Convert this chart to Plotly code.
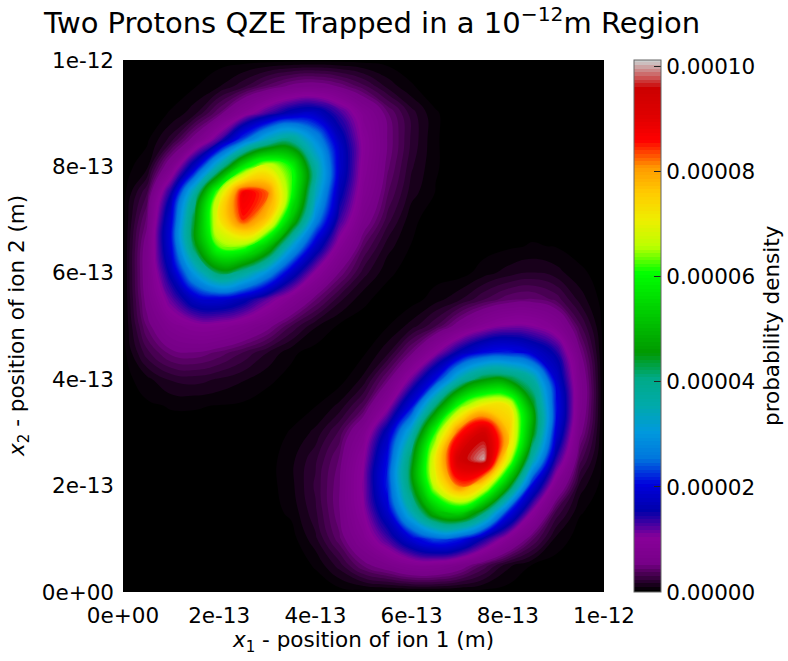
import numpy as np
import plotly.graph_objects as go

# grid positions along each ion coordinate, in units of 1e-12 m
X1_POS = [0.00, 0.05, 0.10, 0.15, 0.20, 0.25, 0.30, 0.35, 0.40, 0.45, 0.50,
          0.55, 0.60, 0.65, 0.70, 0.75, 0.80, 0.85, 0.90, 0.95, 1.00]
X2_POS = [0.00, 0.05, 0.10, 0.15, 0.20, 0.25, 0.30, 0.35, 0.40, 0.45, 0.50,
          0.55, 0.60, 0.65, 0.70, 0.75, 0.80, 0.85, 0.90, 0.95, 1.00]

# probability density, units of 1e-5; one row per x2 value (bottom -> top)
DENSITY_E5 = [
    [0, 0, 0, 0, 0, 0, 0, 0, 0, 0, 0, 0, 0, 0, 0, 0, 0, 0, 0, 0, 0],
    [0, 0, 0, 0, 0, 0, 0, 0, 0.04, 0.2, 0.45, 0.62, 0.8, 0.8, 0.62, 0.35, 0.12, 0.03, 0, 0, 0],
    [0, 0, 0, 0, 0, 0, 0, 0, 0.15, 0.42, 0.8, 1.3, 1.95, 2.4, 2.2, 1.5, 0.88, 0.4, 0.08, 0, 0],
    [0, 0, 0, 0, 0, 0, 0, 0.05, 0.22, 0.5, 1.0, 1.84, 3.5, 5.07, 5.51, 4.22, 2.19, 1.03, 0.29, 0.04, 0],
    [0, 0, 0, 0, 0, 0, 0, 0.08, 0.25, 0.5, 1.08, 2.2, 4.36, 6.82, 8.3, 7.24, 4.8, 2.02, 0.78, 0.14, 0],
    [0, 0, 0, 0, 0, 0, 0, 0.08, 0.22, 0.45, 1.0, 2.1, 4.33, 7.19, 9.44, 10.0, 6.97, 3.66, 1.43, 0.34, 0],
    [0, 0, 0, 0, 0, 0, 0, 0.04, 0.12, 0.32, 0.75, 1.7, 3.43, 6.18, 8.48, 9.43, 7.73, 4.74, 1.95, 0.56, 0],
    [0, 0.02, 0.04, 0.04, 0.03, 0.02, 0, 0, 0.03, 0.12, 0.35, 0.95, 2.03, 4.12, 6.25, 7.25, 7.2, 4.66, 2.14, 0.7, 0],
    [0, 0.08, 0.18, 0.2, 0.16, 0.11, 0.05, 0.01, 0, 0, 0.12, 0.46, 1.15, 2.07, 3.57, 4.49, 4.46, 3.75, 1.88, 0.69, 0],
    [0, 0.28, 0.47, 0.5, 0.42, 0.3, 0.17, 0.05, 0, 0, 0.02, 0.15, 0.48, 1.01, 1.62, 2.08, 2.18, 1.89, 1.48, 0.53, 0],
    [0, 0.45, 0.78, 0.93, 0.92, 0.78, 0.57, 0.3, 0.11, 0.02, 0, 0.03, 0.13, 0.3, 0.6, 0.9, 1.08, 1.05, 0.8, 0.32, 0],
    [0, 0.57, 1.2, 1.8, 1.9, 1.65, 1.2, 0.8, 0.45, 0.19, 0.05, 0, 0, 0.07, 0.16, 0.3, 0.42, 0.45, 0.35, 0.14, 0],
    [0, 0.62, 1.65, 3.1, 4.3, 3.8, 2.9, 1.78, 1.0, 0.5, 0.2, 0.05, 0, 0, 0, 0.07, 0.13, 0.17, 0.13, 0.05, 0],
    [0, 0.6, 2.0, 4.4, 6.35, 6.4, 5.2, 3.2, 1.8, 0.9, 0.38, 0.13, 0.03, 0, 0, 0, 0.02, 0.04, 0.03, 0, 0],
    [0, 0.47, 1.95, 4.5, 7.2, 8.5, 7.6, 5.2, 2.8, 1.35, 0.63, 0.27, 0.05, 0, 0, 0, 0, 0, 0, 0, 0],
    [0, 0.3, 1.5, 3.73, 6.65, 8.8, 8.3, 6.15, 3.45, 1.65, 0.82, 0.38, 0.13, 0.03, 0, 0, 0, 0, 0, 0, 0],
    [0, 0.08, 0.68, 1.8, 3.63, 5.78, 6.87, 6.06, 3.69, 1.85, 0.92, 0.46, 0.18, 0.04, 0, 0, 0, 0, 0, 0, 0],
    [0, 0.02, 0.2, 0.6, 1.28, 2.4, 3.46, 3.93, 2.9, 1.72, 0.95, 0.5, 0.22, 0.04, 0, 0, 0, 0, 0, 0, 0],
    [0, 0, 0.04, 0.15, 0.44, 0.87, 1.3, 1.68, 1.77, 1.33, 0.8, 0.45, 0.2, 0.04, 0, 0, 0, 0, 0, 0, 0],
    [0, 0, 0, 0.03, 0.1, 0.22, 0.4, 0.55, 0.6, 0.5, 0.33, 0.15, 0.04, 0, 0, 0, 0, 0, 0, 0, 0],
    [0, 0, 0, 0, 0, 0, 0, 0, 0, 0, 0, 0, 0, 0, 0, 0, 0, 0, 0, 0, 0],
]
CBAR_MAX = 1.013e-4          # top of the colour bar

AXIS_TICKS = [0, 2e-13, 4e-13, 6e-13, 8e-13, 1e-12]
AXIS_TICK_TEXT = ["0e+00", "2e-13", "4e-13", "6e-13", "8e-13", "1e-12"]
CBAR_TICKS = [0, 2e-5, 4e-5, 6e-5, 8e-5, 1e-4]
CBAR_TICK_TEXT = ["0.00000", "0.00002", "0.00004", "0.00006", "0.00008", "0.00010"]

# matplotlib nipy_spectral, sampled at its 21 anchor points
_R = [0, .4667, .5333, 0, 0, 0, 0, 0, 0, 0, 0, 0, 0, .7333, .9333, 1, 1, 1, .8667, .8, .8]
_G = [0, 0, 0, 0, 0, .4667, .6, .6667, .6667, .6, .7333, .8667, 1, 1, .9333, .8, .6, 0, 0, 0, .8]
_B = [0, .5333, .6, .6667, .8667, .8667, .8667, .6667, .5333, 0, 0, 0, 0, 0, 0, 0, 0, 0, 0, 0, .8]
NIPY = [[k / 20, "rgb(%d,%d,%d)" % (round(r * 255), round(g * 255), round(b * 255))]
        for k, (r, g, b) in enumerate(zip(_R, _G, _B))]

FONT = "DejaVu Sans"
FS = 21.5
W, H = 788, 661
L, R, T, B = 123, 184, 60, 69          # plot area 123..604 x 60..592
PW = W - L - R

x = np.array(X1_POS) * 1e-12
y = np.array(X2_POS) * 1e-12
z = np.array(DENSITY_E5) * 1e-5

fig = go.Figure()
fig.add_trace(go.Contour(
    x=x, y=y, z=z, colorscale=NIPY, zmin=0, zmax=CBAR_MAX,
    autocontour=False,
    contours=dict(start=CBAR_MAX / 300, end=CBAR_MAX, size=CBAR_MAX / 150,
                  coloring="fill", showlines=False),
    line=dict(width=0, smoothing=1.3),
    colorbar=dict(thickness=27, len=1, lenmode="fraction", y=0.5, yanchor="middle",
                  x=(634 - L) / PW, xanchor="left", xpad=0, ypad=0,
                  outlinewidth=1, outlinecolor="#666666",
                  tickmode="array", tickvals=CBAR_TICKS, ticktext=CBAR_TICK_TEXT,
                  ticks="inside", ticklen=7, tickcolor="#222222",
                  tickfont=dict(family=FONT, size=FS, color="black")),
    hoverinfo="skip"))

# minor ticks on the colour bar
shapes = []
for v in np.arange(0.5e-5, 1.0e-4, 0.5e-5):
    if abs(v / 2e-5 - round(v / 2e-5)) < 1e-6:
        continue
    yy = v / CBAR_MAX
    shapes.append(dict(type="line", xref="paper", yref="paper",
                       x0=(661 - L) / PW, x1=(657 - L) / PW, y0=yy, y1=yy,
                       line=dict(color="#222222", width=1)))

ax = dict(range=[0, 1e-12], tickmode="array", tickvals=AXIS_TICKS, ticktext=AXIS_TICK_TEXT,
          ticks="", showgrid=False, zeroline=False, showline=False,
          tickfont=dict(family=FONT, size=FS, color="black"), ticklabelstandoff=8)

fig.update_layout(
    width=W, height=H, margin=dict(l=L, r=R, t=T, b=B, autoexpand=False),
    paper_bgcolor="white", plot_bgcolor="black",
    font=dict(family=FONT, color="black"),
    title=dict(text="Two Protons QZE Trapped in a 10<sup>−12</sup>m Region",
               x=44 / W, xanchor="left", y=1 - 23 / H, yanchor="middle",
               font=dict(family=FONT, size=29, color="black")),
    xaxis=dict(ax, title=dict(text="<i>x</i><sub>1</sub> - position of ion 1 (m)", standoff=4,
                              font=dict(family=FONT, size=FS, color="black"))),
    yaxis=dict(ax),
    shapes=shapes,
    annotations=[
        dict(text="<i>x</i><sub>2</sub> - position of ion 2 (m)", xref="paper", yref="paper",
             x=(18 - L) / PW, y=0.5, textangle=-90, showarrow=False,
             xanchor="center", yanchor="middle",
             font=dict(family=FONT, size=FS, color="black")),
        dict(text="probability density", xref="paper", yref="paper",
             x=(771 - L) / PW, y=0.5, textangle=-90, showarrow=False,
             xanchor="center", yanchor="middle",
             font=dict(family=FONT, size=FS, color="black")),
    ],
)

fig.write_html("out.html", config={"displayModeBar": False},
               post_script="document.body.style.margin='0px';")
